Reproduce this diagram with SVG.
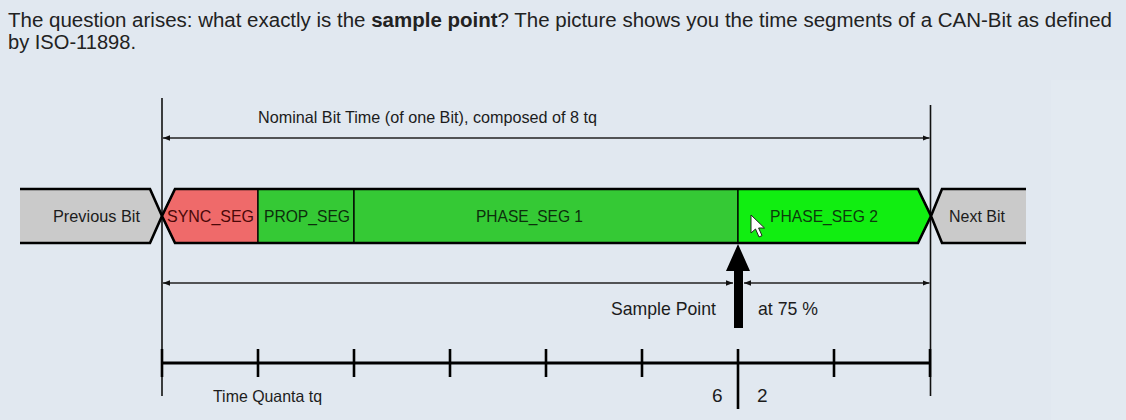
<svg xmlns="http://www.w3.org/2000/svg" width="1126" height="420" viewBox="0 0 1126 420">
<defs>
<style>
.hdr{font-family:"Liberation Sans",Arial,sans-serif;font-size:20px;fill:#222}
.lbl{font-family:"Liberation Sans",Arial,sans-serif;font-size:16.5px;fill:#1c1c1c}
.big{font-family:"Liberation Sans",Arial,sans-serif;font-size:19px;fill:#1c1c1c}
.seg{stroke:#000;stroke-width:1.3}
.frame{fill:none;stroke:#000;stroke-width:2.6;stroke-linejoin:miter}
.vline{stroke:#111;stroke-width:1.6}
.dim{stroke:#222;stroke-width:1.4;fill:none}
.tick{stroke:#000;stroke-width:2.6}
</style>
<marker id="ah" viewBox="0 0 10 10" refX="10" refY="5" markerWidth="7" markerHeight="7" markerUnits="userSpaceOnUse" orient="auto-start-reverse">
<path d="M0,1 L10,5 L0,9 Z" fill="#111"/>
</marker>
</defs>
<rect width="1126" height="420" fill="#e1e8f0"/>
<rect x="1051" y="80" width="75" height="340" fill="#e3eaf1"/>

<g id="header">
<text class="hdr" x="8" y="27" textLength="1104" lengthAdjust="spacingAndGlyphs">The question arises: what exactly is the <tspan font-weight="bold">sample point</tspan>? The picture shows you the time segments of a CAN-Bit as defined</text>
<text class="hdr" x="8" y="49" textLength="128" lengthAdjust="spacingAndGlyphs">by ISO-11898.</text>
</g>

<g id="connectors">
<line class="vline" x1="162" y1="98" x2="162" y2="396"/>
<line class="vline" x1="930.5" y1="105" x2="930.5" y2="396"/>
<line class="dim" x1="163" y1="138" x2="929.5" y2="138" marker-start="url(#ah)" marker-end="url(#ah)"/>
<line class="dim" x1="163" y1="283" x2="733" y2="283" marker-start="url(#ah)" marker-end="url(#ah)"/>
<line class="dim" x1="744" y1="283" x2="929.5" y2="283" marker-start="url(#ah)" marker-end="url(#ah)"/>
<g id="timeline">
<line x1="162" y1="363" x2="931" y2="363" stroke="#000" stroke-width="3"/>
<line class="tick" x1="162" y1="349" x2="162" y2="377"/>
<line class="tick" x1="258" y1="349" x2="258" y2="377"/>
<line class="tick" x1="354" y1="349" x2="354" y2="377"/>
<line class="tick" x1="450" y1="349" x2="450" y2="377"/>
<line class="tick" x1="546" y1="349" x2="546" y2="377"/>
<line class="tick" x1="642" y1="349" x2="642" y2="377"/>
<line class="tick" x1="738" y1="349" x2="738" y2="409"/>
<line class="tick" x1="834" y1="349" x2="834" y2="377"/>
<line class="tick" x1="930" y1="349" x2="930" y2="377"/>
</g>
</g>

<g id="nominal-label">
<text class="lbl" x="258" y="123" textLength="339" lengthAdjust="spacingAndGlyphs">Nominal Bit Time (of one Bit), composed of 8 tq</text>
</g>

<g id="previous-bit">
<polygon points="20,189 150,189 162,216 150,243 20,243" fill="#cacaca"/>
<path class="frame" d="M20,189 H150 L162,216 L150,243 H20"/>
<text class="lbl" x="53" y="222" textLength="87" lengthAdjust="spacingAndGlyphs">Previous Bit</text>
</g>

<g id="sync-seg">
<polygon class="seg" points="175,189 258,189 258,243 175,243 162,216" fill="#ef6a6a"/>
<text class="lbl" x="167" y="222" textLength="87" lengthAdjust="spacingAndGlyphs" style="fill:#4a0808">SYNC_SEG</text>
</g>

<g id="prop-seg">
<rect class="seg" x="258" y="189" width="96" height="54" fill="#35c935"/>
<text class="lbl" x="264" y="222" textLength="86" lengthAdjust="spacingAndGlyphs" style="fill:#0c2e0c">PROP_SEG</text>
</g>

<g id="phase-seg-1">
<rect class="seg" x="354" y="189" width="384" height="54" fill="#35c935"/>
<text class="lbl" x="476" y="222" textLength="107" lengthAdjust="spacingAndGlyphs" style="fill:#0c2e0c">PHASE_SEG 1</text>
</g>

<g id="phase-seg-2">
<polygon class="seg" points="738,189 918,189 931,216 918,243 738,243" fill="#11ee11"/>
<text class="lbl" x="770" y="222" textLength="108" lengthAdjust="spacingAndGlyphs" style="fill:#0c3a0c">PHASE_SEG 2</text>
</g>

<g id="bit-frame">
<path class="frame" d="M918,189 H175 L162,216 L175,243 H918 L931,216 Z"/>
</g>

<g id="next-bit">
<polygon points="1026,189 942,189 931,216 942,243 1026,243" fill="#cacaca"/>
<path class="frame" d="M1026,189 H942 L931,216 L942,243 H1026"/>
<text class="lbl" x="949" y="222" textLength="56" lengthAdjust="spacingAndGlyphs">Next Bit</text>
</g>

<g id="sample-point">
<polygon points="738,244 750,271 743,271 743,328 734,328 734,271 726,271" fill="#000"/>
<text class="big" x="611" y="315" textLength="105" lengthAdjust="spacingAndGlyphs">Sample Point</text>
<text class="big" x="758" y="315" textLength="60" lengthAdjust="spacingAndGlyphs">at 75 %</text>
</g>

<g id="tq-labels">
<text class="lbl" x="213" y="402" textLength="109" lengthAdjust="spacingAndGlyphs">Time Quanta tq</text>
<text class="big" x="712" y="402">6</text>
<text class="big" x="757" y="402">2</text>
</g>

<g id="cursor">
<path d="M751,215 L751,233 L755.5,229 L759,237 L762,235.6 L758.6,228 L764.5,228 Z" fill="#fff" stroke="#222" stroke-width="1"/>
</g>
</svg>
